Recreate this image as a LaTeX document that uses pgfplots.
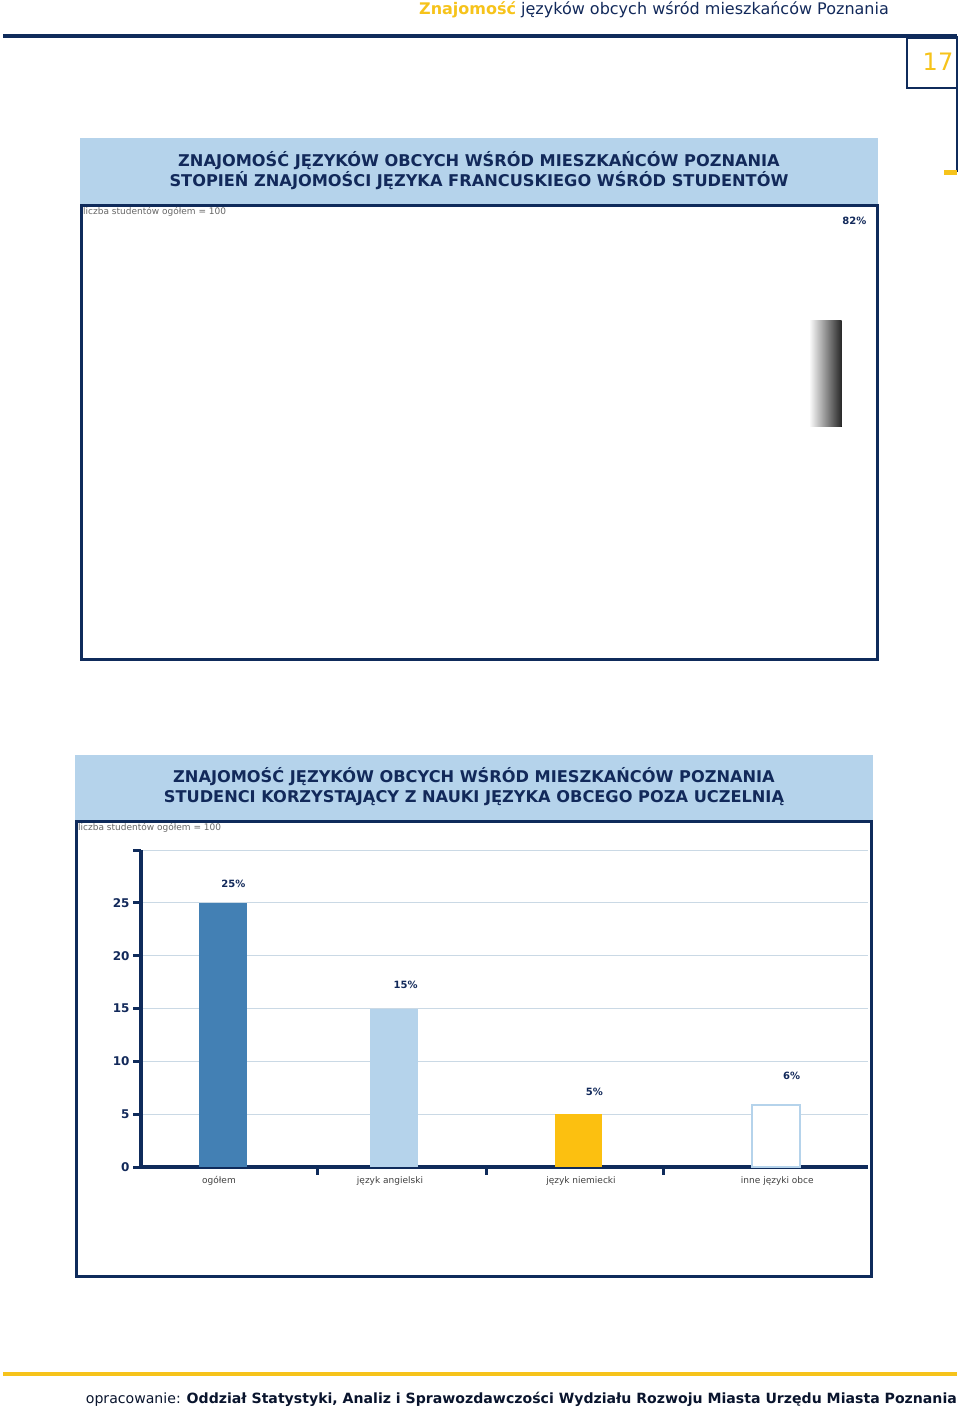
\documentclass[border=0pt]{standalone}
\usepackage{pgfplots}
\pgfplotsset{compat=1.18}
\usepackage{fontspec}
\setmainfont{DejaVu Sans}
\definecolor{navy}{HTML}{0F2B5B}
\definecolor{steel}{HTML}{4380B4}
\definecolor{lblue}{HTML}{B5D3EB}
\definecolor{gold}{HTML}{F6C31B}
\definecolor{barg}{HTML}{FCC010}
\definecolor{gridc}{HTML}{CAD9E5}
\definecolor{ttl}{HTML}{12295A}
\newcommand{\fs}[1]{\fontsize{#1}{#1}\selectfont}
\pgfplotsset{
  pagechart/.style={
    scale only axis, anchor=south west, clip=false,
    axis x line=bottom, axis y line=left,
    axis line style={navy, line width=3.5pt, -},
    ytick style={navy, line width=3pt}, tick align=outside, major tick length=8pt,
    xtick style={draw=none},
    ymajorgrids, grid style={gridc, line width=1pt},
    yticklabel style={font=\fs{12}\bfseries, text=ttl},
    xticklabel style={font=\fs{9}, text=black!75, yshift=2pt},
    /pgf/number format/assume math mode=true,
    ybar, bar shift=0pt,
  }
}
\begin{document}
\begin{tikzpicture}[x=1pt,y=1pt]
\path[use as bounding box] (0,0) rectangle (960,1409);

% ---------- page header ----------
\node[anchor=east, inner sep=0] at (889,1399) {\fs{16}\textcolor{gold}{\bfseries Znajomość} \textcolor{ttl}{języków obcych wśród mieszkańców Poznania}};
\draw[navy, line width=4pt] (3,1373) -- (957,1373);
\draw[navy, line width=2pt] (907,1371) rectangle (957,1321);
\draw[navy, line width=2pt] (957,1373) -- (957,1237);
\node at (938,1347) {\fs{24}\textcolor{gold}{17}};
\draw[gold, line width=5pt] (944,1236) -- (957,1236);

% ---------- page footer ----------
\draw[gold, line width=4pt] (3,35) -- (957,35);
\node[anchor=east, inner sep=0] at (957,10) {\fs{14.1}\textcolor{ttl!50!black}{opracowanie: \bfseries Oddział Statystyki, Analiz i Sprawozdawczości Wydziału Rozwoju Miasta Urzędu Miasta Poznania}};

% ---------- chart 1 frame ----------
\fill[lblue] (80,1203) rectangle (878,1271);
\node[align=center, text=ttl, font=\fontsize{16.2}{20}\selectfont\bfseries] at (479,1238) {ZNAJOMOŚĆ JĘZYKÓW OBCYCH WŚRÓD MIESZKAŃCÓW POZNANIA\\STOPIEŃ ZNAJOMOŚCI JĘZYKA FRANCUSKIEGO WŚRÓD STUDENTÓW};
\draw[navy, line width=3pt] (81.5,1203) rectangle (877,749);
\node[anchor=west, inner sep=0, text=black!60, font=\fs{9}] at (83,1197) {liczba studentów ogółem = 100};

\begin{axis}[pagechart,
  at={(145,-565)}, width=728pt, height=318.5pt,
  xmin=145, xmax=873, ymin=0, ymax=12,
  ytick={0,2,...,12}, yticklabels={0,2,4,6,8,10,{}},
  xtick={207,355,501,675,818},
  xticklabels={biegła,zaawansowana,średnio zaawansowana,podstawowa,nie znam},
  bar width=32.5,
]
\addplot[fill=steel, draw=none] coordinates {(204.5,0.88) (355.7,2.04) (506.3,5.06) (662.7,10.25) (825.3,11.86)};
\draw[navy, line width=3pt] (axis cs:276.7,0) -- ++(0pt,-8pt);
\draw[navy, line width=3pt] (axis cs:430,0) -- ++(0pt,-8pt);
\draw[navy, line width=3pt] (axis cs:573.3,0) -- ++(0pt,-8pt);
\draw[navy, line width=3pt] (axis cs:751.7,0) -- ++(0pt,-8pt);
\begin{scope}[every node/.style={font=\fs{10}\bfseries, text=ttl}]
\node at (axis cs:212.3,1.89) {1\%};
\node at (axis cs:363.3,2.45) {2\%};
\node at (axis cs:513.3,6.08) {5\%};
\node at (axis cs:666,10.92) {10\%};
\end{scope}
\end{axis}
% axis-break marker on the "nie znam" bar and its label
\fill[left color=white, right color=black!85] (809,982) rectangle (841.7,1088);
\node[font=\fs{10}\bfseries, text=ttl] at (854.3,1188.3) {82\%};

% ---------- chart 2 frame ----------
\fill[lblue] (75,587) rectangle (873,654);
\node[align=center, text=ttl, font=\fontsize{16.2}{20}\selectfont\bfseries] at (474,622) {ZNAJOMOŚĆ JĘZYKÓW OBCYCH WŚRÓD MIESZKAŃCÓW POZNANIA\\STUDENCI KORZYSTAJĄCY Z NAUKI JĘZYKA OBCEGO POZA UCZELNIĄ};
\draw[navy, line width=3pt] (76.5,587) rectangle (871.5,132);
\node[anchor=west, inner sep=0, text=black!60, font=\fs{9}] at (78,581) {liczba studentów ogółem = 100};

\begin{axis}[pagechart,
  at={(141,229)}, width=727pt, height=317pt,
  xmin=141, xmax=868, ymin=0, ymax=30,
  ytick={0,5,...,30}, yticklabels={0,5,10,15,20,25,{}},
  xtick={219,390,581,777.3},
  xticklabels={ogółem,język angielski,język niemiecki,inne języki obce},
  bar width=47.5,
]
\addplot[fill=steel, draw=none] coordinates {(223.2,25)};
\addplot[fill=lblue, draw=none] coordinates {(394.2,15)};
\addplot[fill=barg, draw=none] coordinates {(578.7,5)};
\addplot[fill=white, draw=lblue, line width=2pt] coordinates {(775.8,5.9)};
\draw[navy, line width=3pt] (axis cs:317,0) -- ++(0pt,-8pt);
\draw[navy, line width=3pt] (axis cs:486,0) -- ++(0pt,-8pt);
\draw[navy, line width=3pt] (axis cs:663.7,0) -- ++(0pt,-8pt);
\begin{scope}[every node/.style={font=\fs{10}\bfseries, text=ttl}]
\node at (axis cs:233.3,26.8) {25\%};
\node at (axis cs:405.7,17.2) {15\%};
\node at (axis cs:594.3,7.16) {5\%};
\node at (axis cs:791.7,8.67) {6\%};
\end{scope}
\end{axis}
\end{tikzpicture}
\end{document}
